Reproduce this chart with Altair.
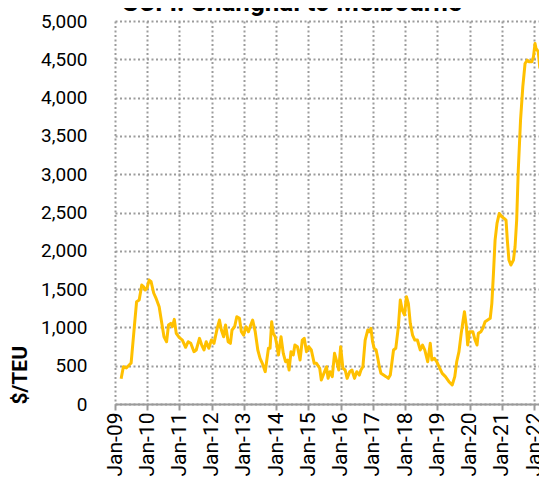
import datetime as dt
import altair as alt
import pandas as pd

# fractional year positions and freight rate ($/TEU)
years = [
    2009.19, 2009.26, 2009.35, 2009.50, 2009.60, 2009.67, 2009.75, 2009.83, 2009.89, 2009.94,
    2009.99, 2010.06, 2010.12, 2010.20, 2010.27, 2010.37, 2010.45, 2010.52, 2010.60, 2010.66,
    2010.73, 2010.78, 2010.84, 2010.90, 2010.99, 2011.09, 2011.19, 2011.27, 2011.35, 2011.45,
    2011.52, 2011.62, 2011.69, 2011.76, 2011.83, 2011.91, 2011.99, 2012.07, 2012.17, 2012.24,
    2012.30, 2012.37, 2012.43, 2012.51, 2012.58, 2012.63, 2012.71, 2012.78, 2012.86, 2012.92,
    2012.99, 2013.06, 2013.14, 2013.21, 2013.27, 2013.35, 2013.43, 2013.50, 2013.57, 2013.66,
    2013.71, 2013.76, 2013.81, 2013.86, 2013.91, 2013.97, 2014.02, 2014.07, 2014.15, 2014.22,
    2014.29, 2014.35, 2014.40, 2014.46, 2014.53, 2014.58, 2014.66, 2014.74, 2014.81, 2014.87,
    2014.94, 2015.01, 2015.09, 2015.18, 2015.25, 2015.35, 2015.40, 2015.48, 2015.56, 2015.61,
    2015.67, 2015.74, 2015.81, 2015.88, 2015.94, 2016.00, 2016.07, 2016.14, 2016.20, 2016.28,
    2016.35, 2016.43, 2016.50, 2016.58, 2016.63, 2016.69, 2016.76, 2016.84, 2016.89, 2016.94,
    2016.99, 2017.04, 2017.10, 2017.15, 2017.20, 2017.25, 2017.33, 2017.41, 2017.48, 2017.54,
    2017.58, 2017.64, 2017.71, 2017.79, 2017.85, 2017.91, 2017.98, 2018.04, 2018.10, 2018.16,
    2018.23, 2018.30, 2018.38, 2018.47, 2018.54, 2018.61, 2018.70, 2018.78, 2018.83, 2018.91,
    2018.98, 2019.05, 2019.15, 2019.25, 2019.36, 2019.46, 2019.54, 2019.60, 2019.67, 2019.74,
    2019.80, 2019.84, 2019.90, 2019.94, 2020.00, 2020.10, 2020.17, 2020.23, 2020.27, 2020.35,
    2020.41, 2020.48, 2020.56, 2020.64, 2020.69, 2020.74, 2020.79, 2020.85, 2020.92, 2021.00,
    2021.07, 2021.13, 2021.17, 2021.22, 2021.28, 2021.36, 2021.41, 2021.46, 2021.51, 2021.58,
    2021.65, 2021.72, 2021.79, 2021.85, 2021.93, 2021.98, 2022.03, 2022.06, 2022.10, 2022.13,
    2022.18,
]
rates = [
    330, 487, 470, 535, 1009, 1335, 1357, 1553, 1530, 1488,
    1510, 1618, 1596, 1449, 1383, 1270, 1057, 878, 813, 1031,
    1053, 1009, 1105, 922, 870, 835, 740, 813, 792, 683,
    705, 857, 770, 705, 813, 727, 835, 792, 988, 1096,
    966, 878, 1031, 813, 792, 966, 1009, 1140, 1118, 944,
    900, 1009, 944, 1031, 1096, 944, 705, 596, 531, 422,
    574, 727, 727, 1074, 922, 878, 770, 640, 878, 661,
    552, 574, 444, 683, 640, 770, 748, 574, 835, 857,
    683, 748, 705, 531, 531, 466, 313, 400, 487, 335,
    422, 357, 661, 552, 444, 748, 466, 444, 335, 422,
    444, 335, 422, 378, 444, 487, 835, 966, 944, 988,
    813, 727, 705, 600, 487, 400, 378, 357, 335, 378,
    509, 705, 727, 1009, 1357, 1227, 1162, 1401, 1314, 1053,
    900, 835, 835, 705, 770, 705, 552, 792, 574, 596,
    552, 487, 400, 357, 291, 248, 357, 552, 683, 922,
    1096, 1205, 1009, 770, 944, 944, 835, 770, 922, 944,
    988, 1074, 1096, 1118, 1314, 1705, 2140, 2358, 2488, 2445,
    2423, 2401, 2140, 1879, 1814, 1879, 2053, 2401, 3054, 3706,
    4141, 4445, 4489, 4467, 4467, 4532, 4706, 4641, 4619, 4597,
    4380,
]
tick_years = list(range(2009, 2023))
y_ticks = list(range(0, 5001, 500))


def to_date(fy):
    base = dt.datetime(2009, 1, 1)
    return base + dt.timedelta(days=(fy - 2009) * 365.25)


df = pd.DataFrame({"date": [to_date(v) for v in years], "rate": rates})

FONT = "Roboto"
GRID = "#9c9c9c"

chart = (
    alt.Chart(df)
    .mark_line(color="#FFC000", strokeWidth=3, strokeJoin="round")
    .encode(
        x=alt.X(
            "date:T",
            title=None,
            scale=alt.Scale(
                domain=[
                    alt.DateTime(year=2009, month=1, date=1),
                    alt.DateTime(year=2022, month=2, date=26),
                ],
                nice=False,
            ),
            axis=alt.Axis(
                values=[alt.DateTime(year=y, month=1, date=1) for y in tick_years],
                format="%b-%y",
                labelAngle=-90,
                labelAlign="right",
                labelBaseline="middle",
                labelFont=FONT,
                labelFontSize=21,
                labelColor="#000000",
                labelPadding=2,
                labelOverlap=False,
                labelFlush=False,
                domainColor="#9a9a9a",
                domainWidth=2,
                tickColor="#9a9a9a",
                tickWidth=2,
                tickSize=6,
                grid=True,
                gridColor=GRID,
                gridDash=[2, 2.5],
                gridWidth=2,
            ),
        ),
        y=alt.Y(
            "rate:Q",
            title="$/TEU",
            scale=alt.Scale(domain=[0, 5000], nice=False),
            axis=alt.Axis(
                values=y_ticks,
                format=",d",
                labelFont=FONT,
                labelFontSize=19,
                labelColor="#000000",
                labelPadding=28,
                domain=False,
                ticks=False,
                grid=True,
                gridColor=GRID,
                gridDash=[2, 2.5],
                gridWidth=2,
                titleFont=FONT,
                titleFontSize=21,
                titleFontWeight="bold",
                titleColor="#000000",
                titleAnchor="start",
                titlePadding=10,
            ),
        ),
    )
    .properties(
        width=424,
        height=383,
        title=alt.TitleParams(
            "SCFI: Shanghai to Melbourne",
            font=FONT,
            fontSize=26,
            fontWeight="bold",
            color="#000000",
            offset=0,
            dy=4,
            anchor="middle",
            dx=-35,
        ),
        autosize=alt.AutoSizeParams(type="none"),
        padding={"top": 13, "left": 107, "right": 0, "bottom": 72},
    )
    .configure_view(stroke=None)
)

chart.save("out.html", embed_options={"renderer": "svg", "actions": False})
